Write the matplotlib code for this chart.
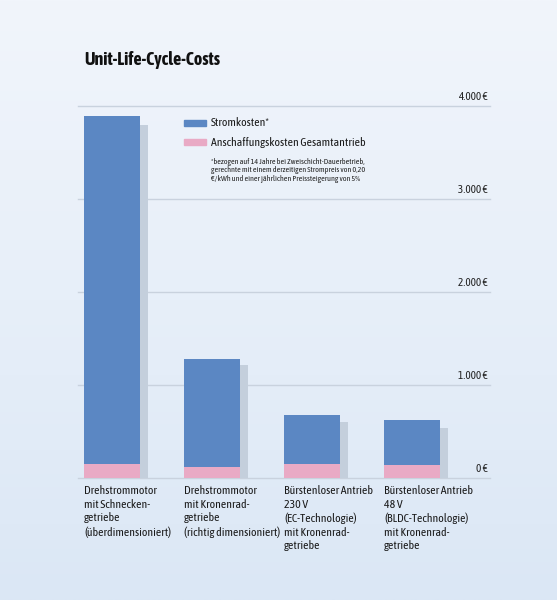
import matplotlib
matplotlib.use("Agg")
import matplotlib.pyplot as plt
import numpy as np
from matplotlib import font_manager
from matplotlib.colors import LinearSegmentedColormap
from matplotlib.patches import Rectangle

# ---- data ----
categories = [
    "Drehstrommotor\nmit Schnecken-\ngetriebe\n(überdimensioniert)",
    "Drehstrommotor\nmit Kronenrad-\ngetriebe\n(richtig dimensioniert)",
    "Bürstenloser Antrieb\n230 V\n(EC-Technologie)\nmit Kronenrad-\ngetriebe",
    "Bürstenloser Antrieb\n48 V\n(BLDC-Technologie)\nmit Kronenrad-\ngetriebe",
]
anschaffung = [145, 115, 145, 130]
strom = [3740, 1155, 530, 490]
shadow = [3790, 1210, 600, 530]
yticks = [0, 1000, 2000, 3000, 4000]
ytick_labels = ["0 €", "1.000 €", "2.000 €", "3.000 €", "4.000 €"]
title = "Unit-Life-Cycle-Costs"
legend_labels = ["Stromkosten*", "Anschaffungskosten Gesamtantrieb"]
note = ("*bezogen auf 14 Jahre bei Zweischicht-Dauerbetrieb,\n"
        "gerechnte mit einem derzeitigen Strompreis von 0,20\n"
        "€/kWh und einer jährlichen Preissteigerung von 5%")

names = {f.name for f in font_manager.fontManager.ttflist}
main = next((n for n in ["Asap Condensed", "Fira Sans Condensed", "Roboto Condensed", "Roboto"] if n in names), "DejaVu Sans")
plt.rcParams["font.family"] = [main, "DejaVu Sans"]

W, H = 557, 600
fig = plt.figure(figsize=(W / 100, H / 100), dpi=100)

# background gradient
bg = fig.add_axes([0, 0, 1, 1], zorder=-10)
grad = np.linspace(0, 1, 256).reshape(-1, 1)
cm = LinearSegmentedColormap.from_list("bg", ["#f1f5fb", "#e7eff9", "#dbe7f5"])
bg.imshow(grad, aspect="auto", cmap=cm, extent=[0, 1, 0, 1])
bg.axis("off")

def fx(px):
    return px / W

def fy(py):
    return 1 - py / H

ax_left, ax_right, ax_top, ax_bot = 78, 490, 105.7, 477.5
ax = fig.add_axes([fx(ax_left), fy(ax_bot), (ax_right - ax_left) / W, (ax_bot - ax_top) / H])
ax.patch.set_alpha(0)
ax.set_xlim(-0.34, 3.78)
ax.set_ylim(0, 4000)
for s in ax.spines.values():
    s.set_visible(False)
ax.set_xticks([])
ax.set_yticks([])

x = np.arange(len(categories))
bw = 0.56
blue = "#5b87c3"
pink = "#e9aac5"
grey = "#c4cfdc"

for yv, lab in zip(yticks, ytick_labels):
    ax.axhline(yv, color="#c9d2de", lw=1.0, zorder=1, clip_on=False)
    ax.text(3.755, yv + 35, lab, ha="right", va="bottom", fontsize=8, color="#222222")

ax.bar(x + 0.08, shadow, width=bw, color=grey, zorder=2)
ax.bar(x, anschaffung, width=bw, color=pink, zorder=3)
ax.bar(x, strom, width=bw, bottom=anschaffung, color=blue, zorder=3)

for xi, lab in zip(x, categories):
    ax.text(xi - bw / 2, -0.021, lab, transform=ax.get_xaxis_transform(),
            ha="left", va="top", fontsize=8.5, color="#1a1a1a", linespacing=1.28)

fig.text(fx(84), fy(60), title, fontsize=13, fontweight="bold", ha="left", va="center", color="#111111")

for i, (lab, col) in enumerate(zip(legend_labels, [blue, pink])):
    yc = 122.5 + i * 20
    fig.patches.append(Rectangle((fx(184), fy(yc + 3)), (206 - 184) / W, 6 / H,
                                 transform=fig.transFigure, color=col))
    fig.text(fx(211), fy(yc), lab, fontsize=8.5, ha="left", va="center", color="#1a1a1a")
fig.text(fx(211), fy(157.5), note, fontsize=5.75, ha="left", va="top", color="#222222", linespacing=1.15)

fig.savefig("out.png", dpi=100)
